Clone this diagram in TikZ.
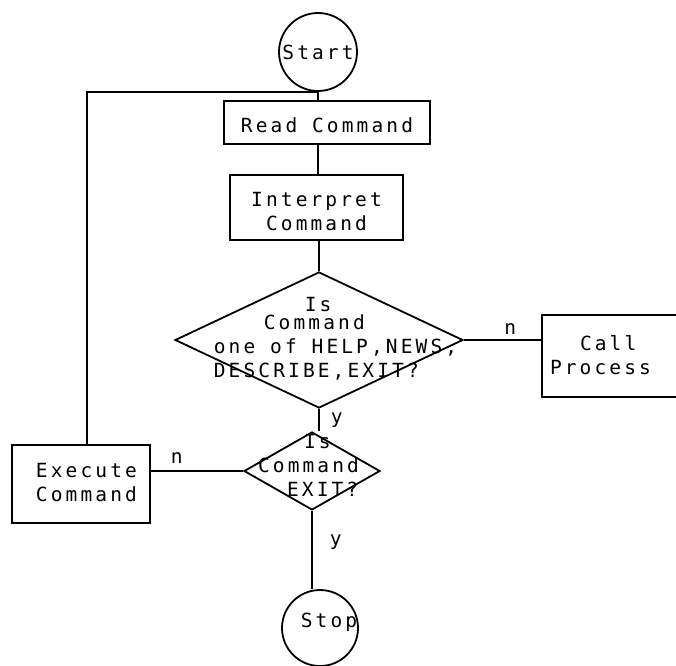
\documentclass[tikz,border=0pt]{standalone}
\usepackage{fontspec}
\newfontfamily\pfont[LetterSpace=16]{DejaVu Sans Mono}
\newcommand\plotfont{\pfont\fontsize{19.5bp}{24bp}\selectfont}
\usetikzlibrary{shapes.geometric}
\begin{document}
\begin{tikzpicture}[x=1bp,y=-1bp,
  every node/.style={font=\plotfont},
  ln/.style={line width=1.8bp},
  boxnode/.style={draw, line width=1.8bp, rectangle, inner sep=0pt},
  term/.style={draw, line width=1.8bp, circle, inner sep=0pt},
  decide/.style={draw, line width=1.8bp, diamond, inner sep=0pt},
  lbl/.style={inner sep=0pt, font=\plotfont}]
\useasboundingbox (0,0) rectangle (676,666);

% terminals
\node[term, minimum size=78bp, text height=16bp, text depth=0bp] (start) at (318,52) {\makebox[0pt]{Start}};
\node[term, minimum size=76bp, text height=12bp, text depth=14bp] (stop) at (320,628) {\makebox[0pt]{\hspace{18bp}Stop}};

% processes
\node[boxnode, minimum width=206bp, minimum height=43bp, text height=21bp, text depth=0bp] (read) at (327,122.5) {Read Command};
\node[boxnode, minimum height=65bp, text width=173bp, align=center, text height=26bp, text depth=28bp] (interp) at (316.5,207.5) {Interpret\\Command};
\node[boxnode, minimum height=82bp, text width=136bp, align=left, text height=14bp, text depth=26bp] (call) at (610,356) {\hspace*{38bp}Call\\\hspace*{8bp}Process};
\node[boxnode, minimum height=78bp, text width=138bp, align=left, text height=14bp, text depth=28bp] (exec) at (81,484) {\hspace*{24bp}Execute\\\hspace*{24bp}Command};

% decisions
\node[decide, minimum width=288bp, minimum height=136bp] (d1) at (319,340)
  {\makebox[0pt]{\hspace{33bp}\raisebox{-5bp}[0pt][0pt]{\begin{tabular}{@{}l@{}}\hspace*{91bp}Is\\[-6bp]\hspace*{50bp}Command\\one of HELP,NEWS,\\DESCRIBE,EXIT?\end{tabular}}}};
\node[decide, minimum width=136bp, minimum height=78bp] (d2) at (312,471)
  {\makebox[0pt]{\raisebox{-2bp}[0pt][0pt]{\begin{tabular}{@{}l@{}}\hspace*{46bp}Is\\Command\\\hspace*{29bp}EXIT?\end{tabular}}\hspace{7bp}}};

% connectors
\draw[ln] (start.south) -- (start.south |- read.north);
\draw[ln] (start.south |- read.south) -- (start.south |- interp.north);
\draw[ln] (d1.north |- interp.south) -- (d1.north);
\draw[ln] (d1.east) -- node[lbl, pos=0.6, above=5bp] {n} (d1.east -| call.west);
\draw[ln] (d1.south) -- node[lbl, midway, right=11bp] {y} (d1.south |- d2.north);
\draw[ln] (d2.west) -- node[lbl, pos=0.72, above=7bp] {n} (d2.west -| exec.east);
\draw[ln] (d2.south) -- node[lbl, pos=0.4, right=17bp] {y} (d2.south |- stop.north);
\coordinate (loop) at (87,92);
\draw[ln] (exec.north -| loop) |- (start.south);
\end{tikzpicture}
\end{document}
